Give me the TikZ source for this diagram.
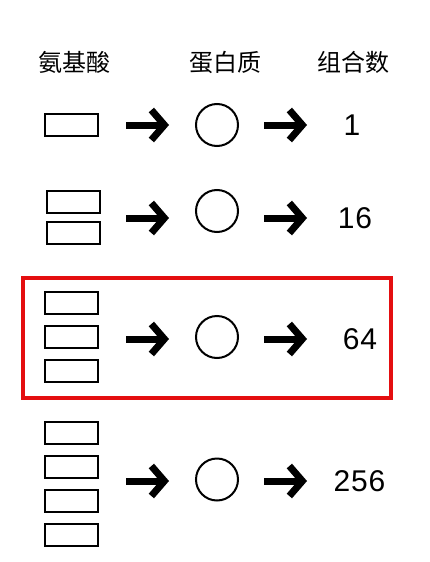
\documentclass[tikz,border=0pt]{standalone}
\usepackage{fontspec}
\setmainfont{Liberation Sans}[LetterSpace=3]
\newfontfamily\cjk{Noto Sans CJK SC}
\usetikzlibrary{arrows.meta}
\definecolor{boxred}{RGB}{228,14,16}
\tikzset{
    amino/.style={draw, line width=2pt, minimum width=53pt, minimum height=22pt, inner sep=0pt},
    protein/.style={draw, circle, line width=2pt, minimum size=42pt, inner sep=0pt},
    arr/.style={line width=7pt, -{Straight Barb[length=13pt, width=30pt]}},
    head/.style={font=\cjk\fontsize{24}{26}\selectfont, inner sep=0pt},
    count/.style={font=\fontsize{30}{32}\selectfont, inner sep=0pt}
}
\begin{document}
\begin{tikzpicture}[x=1pt, y=-1pt]
    \useasboundingbox (0,0) rectangle (429,562);
    % headers
    \node[head] (h1) at (74,62) {氨基酸};
    \node[head] (h2) at (225,62) {蛋白质};
    \node[head] (h3) at (353,62) {组合数};
    % row 1
    \node[amino] (r1a) at (71.5,124.5) {};
    \node[protein] (p1) at (217,125) {};
    \node[count] (n1) at (352,125) {1};
    \coordinate (a1s) at (126,125);
    \coordinate (a1e) at (169,125);
    \coordinate (b1s) at (264,125);
    \coordinate (b1e) at (307,125);
    \draw[arr] (a1s) -- (a1e);
    \draw[arr] (b1s) -- (b1e);
    % row 2
    \node[amino] (r2a) at (73.5,202) {};
    \node[amino] (r2b) at (73.5,232.5) {};
    \node[protein] (p2) at (217,211) {};
    \node[count] (n2) at (355,218) {16};
    \coordinate (a2s) at (126,218);
    \coordinate (a2e) at (169,218);
    \coordinate (b2s) at (264,218);
    \coordinate (b2e) at (307,218);
    \draw[arr] (a2s) -- (a2e);
    \draw[arr] (b2s) -- (b2e);
    % row 3
    \node[amino] (r3a) at (71.5,303) {};
    \node[amino] (r3b) at (71.5,337) {};
    \node[amino] (r3c) at (71.5,370.5) {};
    \node[protein] (p3) at (217,337) {};
    \node[count] (n3) at (360,339) {64};
    \coordinate (a3s) at (126,339);
    \coordinate (a3e) at (169,339);
    \coordinate (b3s) at (264,339);
    \coordinate (b3e) at (307,339);
    \draw[arr] (a3s) -- (a3e);
    \draw[arr] (b3s) -- (b3e);
    \draw[boxred, line width=3.2pt] (23,278) rectangle (391,398);
    % row 4
    \node[amino] (r4a) at (71.5,433) {};
    \node[amino] (r4b) at (71.5,467) {};
    \node[amino] (r4c) at (71.5,501) {};
    \node[amino] (r4d) at (71.5,535) {};
    \node[protein] (p4) at (217,479.5) {};
    \node[count] (n4) at (359.5,481) {256};
    \coordinate (a4s) at (126,481);
    \coordinate (a4e) at (169,481);
    \coordinate (b4s) at (264,481);
    \coordinate (b4e) at (307,481);
    \draw[arr] (a4s) -- (a4e);
    \draw[arr] (b4s) -- (b4e);
\end{tikzpicture}
\end{document}
